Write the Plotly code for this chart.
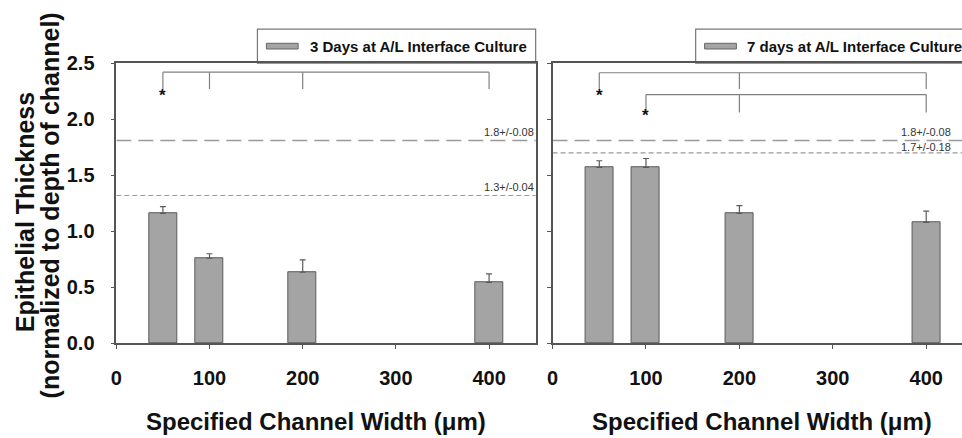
import plotly.graph_objects as go

# ---------------- data ----------------
widths = [50, 100, 200, 400]
day3_mean = [1.16, 0.76, 0.635, 0.545]
day3_err = [0.06, 0.04, 0.11, 0.075]
day7_mean = [1.57, 1.57, 1.16, 1.08]
day7_err = [0.06, 0.08, 0.07, 0.10]

day3_ref_vals = [1.81, 1.32]
day3_ref_labels = ["1.8+/-0.08", "1.3+/-0.04"]
day7_ref_vals = [1.81, 1.70]
day7_ref_labels = ["1.8+/-0.08", "1.7+/-0.18"]

# significance brackets: (x points, bar level, drop level, star x, star y)
day3_brackets = [([50, 100, 200, 400], 2.42, 2.27, 50, 2.21)]
day7_brackets = [([50, 200, 400], 2.415, 2.27, 50, 2.21),
                 ([100, 200, 400], 2.22, 2.06, 100, 2.03)]

legend3 = "3 Days at A/L Interface Culture"
legend7 = "7 days at A/L Interface Culture"
x_title = "Specified Channel Width (\u03bcm)"
y_title1 = "Epithelial Thickness"
y_title2 = "(normalized to depth of channel)"
x_ticks = [0, 100, 200, 300, 400]
y_ticks = [0.0, 0.5, 1.0, 1.5, 2.0, 2.5]

# ---------------- layout helpers ----------------
W, H = 962, 438
def pxx(p):
    return p / W
def pxy(p):
    return 1 - p / H

BAR_FILL = "#a4a4a4"
BAR_LINE = "#5a5a5a"
AX = "#555555"
FONT = "Liberation Sans, Arial, sans-serif"

fig = go.Figure()

def add_panel(xa, ya, means, errs, refs, ref_labels, brackets, xmax_label,
              shifts):
    fig.add_trace(go.Bar(
        x=widths, y=means, width=30, xaxis=xa, yaxis=ya,
        marker=dict(color=BAR_FILL, line=dict(color=BAR_LINE, width=1)),
        error_y=dict(type="data", array=errs, arrayminus=[0] * len(errs),
                     symmetric=False, color=BAR_LINE, thickness=1.2, width=3),
        showlegend=False))
    dashes = ["15px,7px", "5px,3px"]
    lw = [1.6, 1.2]
    for i, v in enumerate(refs):
        fig.add_trace(go.Scatter(
            x=[0, 460], y=[v, v], mode="lines", xaxis=xa, yaxis=ya,
            line=dict(color="#9a9a9a", width=lw[i], dash=dashes[i]),
            showlegend=False, hoverinfo="skip"))
        fig.add_annotation(
            x=xmax_label, y=v, xref=xa, yref=ya, text=ref_labels[i],
            xanchor="right", yanchor="bottom", showarrow=False, borderpad=0,
            font=dict(family=FONT, size=11, color="#333333"), yshift=shifts[i])
    for pts, top, drop, sx, sy in brackets:
        bx, by = [pts[0], pts[-1]], [top, top]
        for p in pts:
            bx += [None, p, p]
            by += [None, top, drop]
        fig.add_trace(go.Scatter(
            x=bx, y=by, mode="lines", xaxis=xa, yaxis=ya,
            line=dict(color="#808080", width=1.2),
            showlegend=False, hoverinfo="skip"))
        fig.add_annotation(
            x=sx, y=sy, xref=xa, yref=ya, text="*", showarrow=False,
            font=dict(family=FONT, size=17, color="#111111", weight="bold"))

add_panel("x", "y", day3_mean, day3_err, day3_ref_vals, day3_ref_labels,
          day3_brackets, 449, [2, 1])
add_panel("x2", "y2", day7_mean, day7_err, day7_ref_vals, day7_ref_labels,
          day7_brackets, 428, [2, -1])

tickfont = dict(family=FONT, size=20, color="#111111", weight="bold")
common_x = dict(showline=True, linecolor=AX, linewidth=1.5, ticks="outside",
                ticklen=4, tickcolor=AX, tickwidth=1.2, showgrid=False,
                zeroline=False, tickvals=x_ticks, tickfont=tickfont,
                ticklabelstandoff=12)
common_y = dict(showline=True, linecolor=AX, linewidth=1.5, ticks="outside",
                ticklen=4, tickcolor=AX, tickwidth=1.2, showgrid=False,
                zeroline=False, tickvals=y_ticks, range=[0, 2.5],
                domain=[pxy(350), pxy(55)])

fig.update_layout(
    width=W, height=H,
    margin=dict(l=0, r=0, t=0, b=0),
    paper_bgcolor="white", plot_bgcolor="white",
    bargap=0,
    xaxis=dict(**common_x, range=[0, 450], domain=[pxx(111), pxx(533)],
               mirror=True, anchor="y"),
    yaxis=dict(**common_y, mirror=True, anchor="x", tickformat=".1f",
               tickfont=tickfont, ticklabelstandoff=12),
    xaxis2=dict(**common_x, range=[0, 438.3], domain=[pxx(550), 1.0],
                mirror=True, anchor="y2"),
    yaxis2=dict(**common_y, mirror=False, anchor="x2", showticklabels=False),
)

# legend boxes (drawn)
shapes = []
for (x0, x1, sw0, sw1, tx, txt) in [(253, 533, 262, 294, 304, legend3),
                                   (694, 975, 703, 735, 744, legend7)]:
    shapes.append(dict(type="rect", xref="paper", yref="paper",
                       x0=pxx(x0), x1=pxx(x1), y0=pxy(55), y1=pxy(19),
                       line=dict(color="#777777", width=1.2),
                       fillcolor="white", layer="below"))
    shapes.append(dict(type="rect", xref="paper", yref="paper",
                       x0=pxx(sw0), x1=pxx(sw1), y0=pxy(40), y1=pxy(34),
                       line=dict(color="#666666", width=1), fillcolor=BAR_FILL))
    fig.add_annotation(x=pxx(tx), y=pxy(37), xref="paper", yref="paper",
                       text=txt, xanchor="left", yanchor="middle",
                       showarrow=False,
                       font=dict(family=FONT, size=15, color="#111111",
                                 weight="bold"))
fig.update_layout(shapes=shapes)

# axis titles
titlefont = dict(family=FONT, size=24, color="#111111", weight="bold")
for cx in [312, 761]:
    fig.add_annotation(x=pxx(cx), y=pxy(420), xref="paper", yref="paper",
                       text=x_title, showarrow=False, xanchor="center",
                       yanchor="middle", font=titlefont, yshift=-12)
yfont = dict(family=FONT, size=25, color="#111111", weight="bold")
fig.add_annotation(x=pxx(19), y=pxy(212), xref="paper", yref="paper",
                   text=y_title1, textangle=-90, showarrow=False,
                   xanchor="center", yanchor="middle", font=yfont)
fig.add_annotation(x=pxx(44), y=pxy(205), xref="paper", yref="paper",
                   text=y_title2, textangle=-90, showarrow=False,
                   xanchor="center", yanchor="middle", font=yfont)

fig.write_html("out.html")
